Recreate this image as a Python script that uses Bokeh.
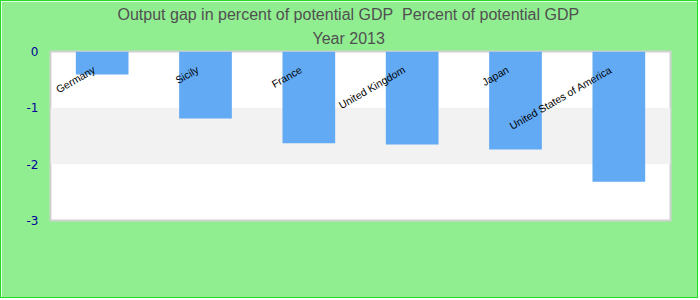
from bokeh.plotting import figure
from bokeh.models import ColumnDataSource, Range1d, FactorRange, FixedTicker, BoxAnnotation, Title
from bokeh.core.properties import value
from bokeh.embed import file_html
from bokeh.resources import INLINE

countries = ["Germany", "Sicily", "France", "United Kingdom", "Japan", "United States of America"]
gap = [-0.41, -1.19, -1.63, -1.65, -1.74, -2.31]
y_ticks = [0, -1, -2, -3]
y_tick_labels = ["0", "-1", "-2", "-3"]
title_main = "Output gap in percent of potential GDP\u00a0 Percent of potential GDP"
title_sub = "Year 2013"

src = ColumnDataSource(dict(x=countries, top=[0] * len(countries), bottom=gap, ly=[0] * len(countries)))

p = figure(width=698, height=298, x_range=FactorRange(*countries, range_padding=0),
           y_range=Range1d(-3, 0), output_backend="svg", toolbar_location=None,
           min_border_left=49, min_border_right=29, min_border_top=50, min_border_bottom=79)
p.title = None
p.styles = {"border": "1px solid #22dd22"}
p.background_fill_color = "white"
p.border_fill_color = "#90ee90"
p.outline_line_color = "#d0d0d0"
p.outline_line_width = 2

p.add_layout(BoxAnnotation(bottom=-2, top=-1, fill_color="#f2f2f2", fill_alpha=1, line_alpha=0, level="underlay"))

p.vbar(x="x", top="top", bottom="bottom", width=0.51, source=src, fill_color="#63aaf4", line_color=None)

p.text(x="x", y="ly", text="x", source=src, angle=30, angle_units="deg", x_offset=-8, y_offset=17,
       text_align="right", text_baseline="middle", text_font=value("Liberation Sans"),
       text_font_size="10.5px", text_color="black")

p.xaxis.visible = False
p.xgrid.visible = False
p.ygrid.visible = False
p.yaxis.ticker = FixedTicker(ticks=y_ticks)
p.yaxis.major_label_overrides = {t: s for t, s in zip(y_ticks, y_tick_labels)}
p.yaxis.axis_line_color = None
p.yaxis.major_tick_line_color = None
p.yaxis.minor_tick_line_color = None
p.yaxis.major_tick_out = 0
p.yaxis.major_tick_in = 0
p.yaxis.major_label_standoff = 12
p.yaxis.major_label_text_color = "#000099"
p.yaxis.major_label_text_font = "DejaVu Sans"
p.yaxis.major_label_text_font_size = "12px"

p.add_layout(Title(text=title_sub, align="left", offset=262, text_font="Liberation Sans",
                   text_font_size="16px", text_font_style="normal", text_color="#505050", standoff=10), "above")
p.add_layout(Title(text=title_main, align="left", offset=67, text_font="Liberation Sans",
                   text_font_size="16px", text_font_style="normal", text_color="#505050", standoff=0), "above")

open("out.html", "w").write(file_html(p, INLINE))
